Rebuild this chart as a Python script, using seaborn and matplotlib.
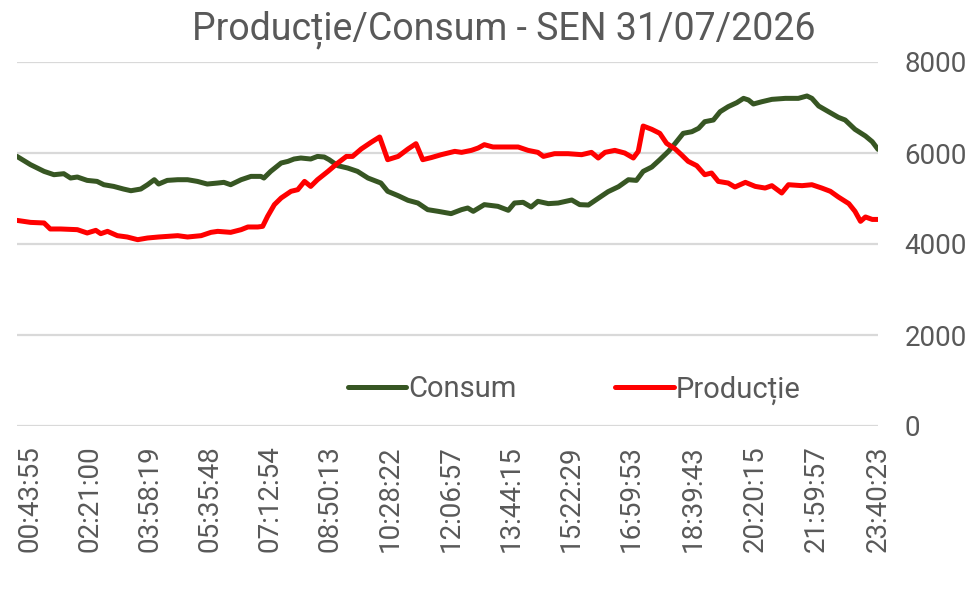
import matplotlib
matplotlib.use("Agg")
import matplotlib.pyplot as plt
import numpy as np
import pandas as pd
import seaborn as sns

# ---------------- data ----------------
consum_times = [
    "00:22", "00:44", "01:06", "01:22", "01:38", "01:49", "02:00", "02:16", "02:32", "02:43",
    "02:59", "03:15", "03:27", "03:43", "03:54", "04:05", "04:12", "04:26", "04:43", "04:59",
    "05:15", "05:31", "05:48", "05:58", "06:09", "06:26", "06:42", "06:58", "07:03", "07:14",
    "07:31", "07:42", "07:52", "08:03", "08:19", "08:30", "08:41", "08:49", "09:03", "09:19",
    "09:35", "09:52", "10:13", "10:24", "10:41", "10:57", "11:13", "11:29", "11:46", "12:07",
    "12:24", "12:34", "12:43", "13:01", "13:23", "13:40", "13:50", "14:04", "14:17", "14:28",
    "14:45", "15:01", "15:23", "15:36", "15:50", "16:06", "16:22", "16:39", "16:55", "17:08",
    "17:19", "17:33", "17:46", "18:00", "18:11", "18:24", "18:38", "18:49", "18:59", "19:13",
    "19:24", "19:37", "19:51", "20:02", "20:10", "20:18", "20:32", "20:48", "21:10", "21:31",
    "21:45", "21:53", "22:04", "22:20", "22:36", "22:47", "23:03", "23:20", "23:31", "23:40:23",
]
consum_values = [
    5925, 5743, 5596, 5523, 5545, 5450, 5472, 5398, 5376, 5303,
    5266, 5208, 5171, 5208, 5303, 5413, 5318, 5398, 5413, 5413,
    5376, 5318, 5340, 5355, 5303, 5413, 5486, 5486, 5450, 5596,
    5780, 5816, 5868, 5890, 5868, 5925, 5912, 5853, 5721, 5670,
    5596, 5450, 5340, 5158, 5062, 4960, 4901, 4755, 4718, 4667,
    4755, 4791, 4718, 4865, 4828, 4740, 4901, 4916, 4813, 4938,
    4887, 4901, 4967, 4865, 4857, 5004, 5150, 5260, 5413, 5398,
    5596, 5692, 5853, 6036, 6212, 6432, 6468, 6542, 6688, 6725,
    6908, 7018, 7106, 7201, 7165, 7077, 7128, 7179, 7201, 7201,
    7253, 7201, 7033, 6908, 6784, 6725, 6520, 6373, 6249, 6080,
]

productie_times = [
    "00:22", "00:44", "01:06", "01:16", "01:33", "02:00", "02:16", "02:30", "02:38", "02:49",
    "03:05", "03:21", "03:38", "03:54", "04:12", "04:43", "04:59", "05:21", "05:37", "05:48",
    "06:09", "06:26", "06:37", "06:53", "07:01", "07:09", "07:20", "07:31", "07:47", "07:58",
    "08:09", "08:19", "08:30", "08:47", "09:03", "09:17", "09:27", "09:41", "09:57", "10:11",
    "10:24", "10:41", "10:57", "11:10", "11:21", "11:35", "11:51", "12:13", "12:24", "12:40",
    "12:51", "13:01", "13:15", "13:34", "13:56", "14:12", "14:28", "14:37", "14:55", "15:17",
    "15:39", "15:55", "16:06", "16:17", "16:33", "16:49", "17:03", "17:11", "17:19", "17:33",
    "17:46", "17:57", "18:11", "18:21", "18:32", "18:46", "18:59", "19:10", "19:21", "19:37",
    "19:48", "20:05", "20:21", "20:37", "20:48", "21:04", "21:15", "21:37", "21:53", "22:09",
    "22:23", "22:36", "22:53", "23:03", "23:12", "23:20", "23:31", "23:40:23",
]
productie_values = [
    4519, 4475, 4462, 4330, 4330, 4315, 4242, 4300, 4227, 4278,
    4183, 4154, 4095, 4132, 4154, 4183, 4154, 4183, 4256, 4278,
    4256, 4315, 4374, 4374, 4388, 4608, 4865, 5011, 5158, 5194,
    5376, 5266, 5413, 5596, 5780, 5925, 5925, 6088, 6234, 6352,
    5853, 5925, 6088, 6205, 5853, 5900, 5963, 6036, 6014, 6058,
    6110, 6183, 6132, 6132, 6132, 6058, 6014, 5925, 5985, 5985,
    5963, 6014, 5890, 6014, 6058, 6000, 5890, 6036, 6593, 6520,
    6432, 6212, 6088, 5963, 5817, 5721, 5523, 5560, 5376, 5340,
    5252, 5355, 5266, 5230, 5282, 5121, 5303, 5282, 5303, 5230,
    5158, 5033, 4887, 4718, 4498, 4594, 4540, 4540,
]

tick_labels = [
    "00:43:55", "02:21:00", "03:58:19", "05:35:48", "07:12:54", "08:50:13", "10:28:22",
    "12:06:57", "13:44:15", "15:22:29", "16:59:53", "18:39:43", "20:20:15", "21:59:57",
    "23:40:23",
]
y_ticks = [0, 2000, 4000, 6000, 8000]
series_names = ["Consum", "Producție"]
series_colors = ["#375623", "#FF0000"]
title_text = "Producție/Consum - SEN 31/07/2026"


def to_minutes(s):
    parts = [int(p) for p in s.split(":")]
    sec = parts[2] if len(parts) > 2 else 0
    return parts[0] * 60 + parts[1] + sec / 60.0


df = pd.concat([
    pd.DataFrame({"t": [to_minutes(s) for s in consum_times],
                  "v": consum_values, "serie": series_names[0]}),
    pd.DataFrame({"t": [to_minutes(s) for s in productie_times],
                  "v": productie_values, "serie": series_names[1]}),
], ignore_index=True)

# ---------------- style ----------------
sns.set_theme(style="white")
plt.rcParams["font.family"] = ["Roboto", "DejaVu Sans"]
text_color = "#595959"

W, H = 979, 593
fig = plt.figure(figsize=(W / 100, H / 100), dpi=100)
ax = fig.add_axes([17 / W, 1 - 426 / H, 861 / W, 364 / H])

sns.lineplot(data=df, x="t", y="v", hue="serie", hue_order=series_names,
             palette=dict(zip(series_names, series_colors)),
             estimator=None, sort=False, linewidth=3.6, ax=ax,
             solid_capstyle="round", solid_joinstyle="round")

ax.set_xlim(df["t"].min(), df["t"].max())
ax.set_ylim(y_ticks[0], y_ticks[-1])
ax.set_yticks(y_ticks)
ax.set_yticklabels([str(v) for v in y_ticks])
ax.yaxis.tick_right()
ax.set_xticks([to_minutes(s) for s in tick_labels])
ax.set_xticklabels(tick_labels, rotation=90)
ax.tick_params(axis="x", length=0, pad=14, labelsize=20, labelcolor=text_color)
ax.tick_params(axis="y", length=0, pad=19, labelsize=20, labelcolor=text_color)
for lab in ax.get_xticklabels():
    lab.set_va("top")
ax.set_xlabel("")
ax.set_ylabel("")
for sp in ax.spines.values():
    sp.set_visible(False)
ax.yaxis.grid(True, color="#d9d9d9", linewidth=1.6)
ax.xaxis.grid(False)
ax.set_axisbelow(True)

handles, labels = ax.get_legend_handles_labels()
leg = ax.legend(handles, labels, loc="center", bbox_to_anchor=(0.647, 0.099),
                ncol=2, frameon=False, fontsize=21, handlelength=2.0,
                handletextpad=0.05, columnspacing=3.4, labelcolor=text_color)
for h in leg.get_lines():
    h.set_linewidth(3.6)

fig.text(0.515, 1 - 30 / H, title_text, ha="center", va="center",
         fontsize=27, color=text_color)

fig.savefig("out.png", dpi=100, facecolor="white")
